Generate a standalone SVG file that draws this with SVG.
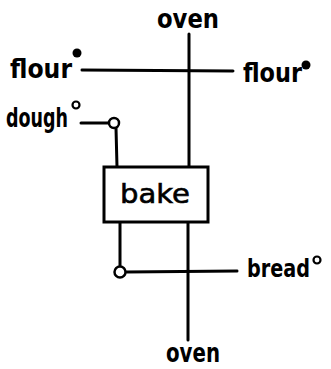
<svg xmlns="http://www.w3.org/2000/svg" width="331" height="369" viewBox="0 0 331 369">
<style>
.w{stroke:#000;stroke-width:3;fill:none;stroke-linecap:round}
.t{font-family:"DejaVu Sans",sans-serif;font-weight:bold;font-size:27px;fill:#000}
.oc{fill:#fff;stroke:#000;stroke-width:2.5}
.sc{fill:none;stroke:#000;stroke-width:2.2}
</style>
<rect width="331" height="369" fill="#fff"/>
<g id="connectors">
<line class="w" x1="189" y1="34" x2="189" y2="167"/>
<line class="w" x1="188" y1="222" x2="188" y2="340"/>
<line class="w" x1="82" y1="70" x2="233" y2="71"/>
<line class="w" x1="81" y1="123" x2="108" y2="123"/>
<line class="w" x1="116" y1="128" x2="117" y2="167"/>
<line class="w" x1="120" y1="222" x2="120" y2="267"/>
<line class="w" x1="126" y1="272" x2="237" y2="271"/>
<circle class="oc" cx="114" cy="123" r="5"/>
<circle class="oc" cx="120" cy="272" r="5.5"/>
</g>
<g id="bake">
<rect x="104" y="167" width="104" height="55" fill="#fff" stroke="#000" stroke-width="3"/>
<text class="t" x="155" y="203" text-anchor="middle" textLength="70" lengthAdjust="spacingAndGlyphs" style="font-weight:normal;stroke:#000;stroke-width:0.6">bake</text>
</g>
<g id="oven-top"><text class="t" x="188" y="28" text-anchor="middle" textLength="62" lengthAdjust="spacingAndGlyphs">oven</text></g>
<g id="oven-bottom"><text class="t" x="193" y="362" text-anchor="middle" textLength="54" lengthAdjust="spacingAndGlyphs">oven</text></g>
<g id="flour-in">
<text class="t" x="10" y="78" textLength="62" lengthAdjust="spacingAndGlyphs">flour</text>
<circle cx="77" cy="53" r="4.5" fill="#000"/>
</g>
<g id="flour-out">
<text class="t" x="243" y="82" textLength="59" lengthAdjust="spacingAndGlyphs">flour</text>
<circle cx="306" cy="65" r="4.5" fill="#000"/>
</g>
<g id="dough">
<text class="t" x="6" y="127" textLength="62" lengthAdjust="spacingAndGlyphs">dough</text>
<circle class="sc" cx="76" cy="105" r="3.5"/>
</g>
<g id="bread">
<text class="t" x="247" y="277" textLength="63" lengthAdjust="spacingAndGlyphs" style="font-size:25px">bread</text>
<circle class="sc" cx="317" cy="260" r="3.5"/>
</g>
</svg>
